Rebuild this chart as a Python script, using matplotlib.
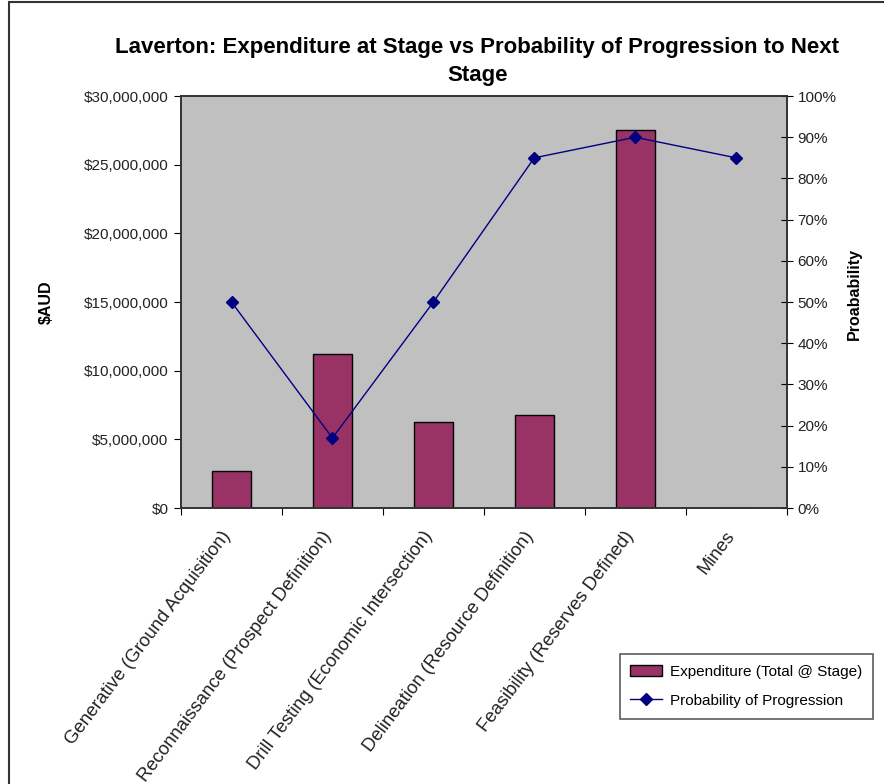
import matplotlib
matplotlib.use("Agg")
import matplotlib.pyplot as plt
import matplotlib.transforms as mtransforms
from matplotlib.ticker import FuncFormatter, PercentFormatter
from matplotlib.patches import Rectangle
import numpy as np

#----------------------------------------------------------------#

stages = ["Generative (Ground Acquisition)",
          "Reconnaissance (Prospect Definition)",
          "Drill Testing (Economic Intersection)",
          "Delineation (Resource Definition)",
          "Feasibility (Reserves Defined)",
          "Mines"]
expenditure = [2.7e6, 11.2e6, 6.25e6, 6.8e6, 27.5e6, 0]
probability = [50, 17, 50, 85, 90, 85]

#----------------------------------------------------------------#

plt.rcParams['font.family'] = ['Liberation Sans', 'DejaVu Sans']

fig = plt.figure(figsize=(8.84, 7.84), dpi=100)
ax = fig.add_axes([0.2048, 0.352, 0.685, 0.5255])
ax.set_facecolor("#C0C0C0")

x = np.arange(len(stages))
bars = ax.bar(x, expenditure, width=0.39, color="#993366",
              edgecolor="black", linewidth=1.0,
              label="Expenditure (Total @ Stage)", zorder=2)
ax.set_xlim(-0.5, len(stages) - 0.5)
ax.set_ylim(0, 30e6)
ax.set_yticks(np.arange(0, 30e6 + 1, 5e6))
ax.yaxis.set_major_formatter(FuncFormatter(lambda v, p: "${:,.0f}".format(v)))
ax.set_xticks(np.arange(len(stages) + 1) - 0.5)
ax.set_xticklabels([])
ax.tick_params(axis="x", length=5, direction="out")
ax.tick_params(axis="y", length=5, direction="out", labelsize=11,
               labelcolor="#222222", pad=4)

# étiquettes des catégories, inclinées, un peu décalées à gauche
decal = mtransforms.ScaledTranslation(-0.11, -0.2, fig.dpi_scale_trans)
for xi, nom in zip(x, stages):
    ax.text(xi, 0, nom, transform=ax.get_xaxis_transform() + decal,
            rotation=53, ha="right", va="top", rotation_mode="anchor",
            fontsize=13.3, color="#222222")

ax.set_ylabel("$AUD", fontsize=11.5, fontweight="bold")
ax.yaxis.set_label_coords(-0.21, 0.5)

ax2 = ax.twinx()
line, = ax2.plot(x, probability, color="#000080", linewidth=1.0,
                 marker="D", markersize=6, label="Probability of Progression",
                 zorder=3)
ax2.set_ylim(0, 100)
ax2.set_yticks(np.arange(0, 101, 10))
ax2.yaxis.set_major_formatter(PercentFormatter(decimals=0))
ax2.tick_params(axis="y", length=8, direction="inout", labelsize=11,
                labelcolor="#222222", pad=4)
ax2.set_ylabel("Proabability", fontsize=11.5, fontweight="bold")
ax2.yaxis.set_label_coords(1.10, 0.52)

for a in (ax, ax2):
    for s in a.spines.values():
        s.set_linewidth(1.2)
        s.set_color("#333333")

fig.text(0.54, 0.922, "Laverton: Expenditure at Stage vs Probability of Progression to Next\nStage",
         ha="center", va="center", fontsize=16, fontweight="bold",
         linespacing=1.45)

leg = fig.legend(handles=[bars, line], loc="upper left",
                 bbox_to_anchor=(0.701, 0.166), bbox_transform=fig.transFigure,
                 borderaxespad=0, fontsize=11, frameon=True, fancybox=False,
                 handlelength=2.1, handletextpad=0.5, borderpad=0.7,
                 labelspacing=1.0)
leg.get_frame().set_edgecolor("#333333")
leg.get_frame().set_linewidth(1.2)

# cadre de la figure
fig.patches.append(Rectangle((0.01, -0.05), 1.2, 1.047, transform=fig.transFigure,
                             fill=False, edgecolor="#333333", linewidth=1.5))

fig.savefig("out.png", dpi=100)
